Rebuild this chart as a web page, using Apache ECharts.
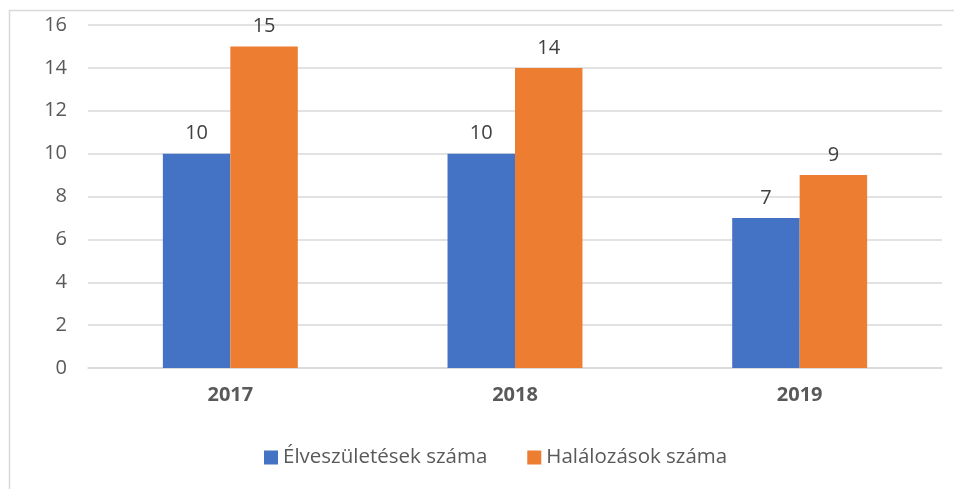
<!DOCTYPE html>
<html>
<head>
<meta charset="utf-8">
<script src="https://cdn.jsdelivr.net/npm/echarts@6/dist/echarts.min.js"></script>
<style>
  html, body { margin: 0; padding: 0; background: #fff; }
  #main { width: 954px; height: 489px; }
</style>
</head>
<body>
<div id="main"></div>
<script>
  // adatok
  var years = ['2017', '2018', '2019'];
  var births = [10, 10, 7];
  var deaths = [15, 14, 9];
  var seriesNames = ['Élveszületések száma', 'Halálozások száma'];

  var myChart = echarts.init(document.getElementById('main'));

  var font = '"Open Sans", sans-serif';

  var option = {
    animation: false,
    textStyle: { fontFamily: font },
    color: ['#4472C4', '#ED7D31'],
    graphic: [{
      type: 'rect',
      shape: { x: 9.5, y: 10.5, width: 1200, height: 1200 },
      style: { fill: 'none', stroke: '#d9d9d9', lineWidth: 1.5 },
      silent: true
    }],
    grid: { left: 88, right: 12, top: 25, bottom: 121 },
    legend: {
      top: 442,
      left: 259,
      itemWidth: 14,
      itemHeight: 14,
      itemGap: 40,
      icon: 'rect',
      textStyle: { fontSize: 20.5, color: '#595959', fontFamily: font },
      data: seriesNames
    },
    xAxis: {
      type: 'category',
      data: years,
      axisLine: { lineStyle: { color: '#d9d9d9', width: 1.5 } },
      axisTick: { show: false },
      axisLabel: { fontSize: 20, fontWeight: 'bold', color: '#595959', margin: 17 }
    },
    yAxis: {
      type: 'value',
      min: 0,
      max: 16,
      interval: 2,
      axisLine: { show: false },
      axisTick: { show: false },
      splitLine: { lineStyle: { color: '#d9d9d9', width: 1.5 } },
      axisLabel: { fontSize: 20, color: '#595959', margin: 21 }
    },
    series: [
      {
        name: seriesNames[0],
        type: 'bar',
        data: births,
        barGap: '0%',
        barCategoryGap: '52.6%',
        label: { show: true, position: 'top', distance: 10, fontSize: 20, color: '#404040' }
      },
      {
        name: seriesNames[1],
        type: 'bar',
        data: deaths,
        barGap: '0%',
        barCategoryGap: '52.6%',
        label: { show: true, position: 'top', distance: 10, fontSize: 20, color: '#404040' }
      }
    ]
  };

  myChart.setOption(option);
</script>
</body>
</html>
